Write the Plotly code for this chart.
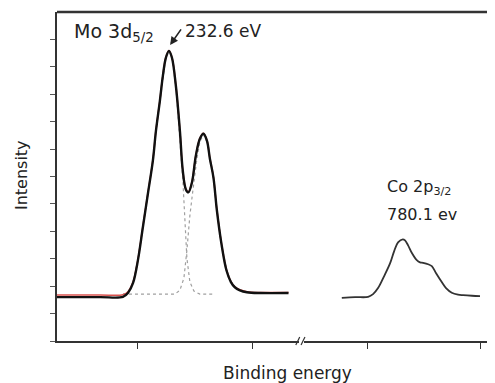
import plotly.graph_objects as go

# ---- data ----
mo_energy = [222.96, 226.7, 228.7, 229.13, 229.57, 230.0, 230.43, 230.87, 231.3, 231.57,
             231.91, 232.17, 232.43, 232.7, 232.96, 233.3, 233.65, 233.9, 234.17, 234.39,
             234.7, 235.04, 235.39, 235.7, 236.0, 236.26, 236.57, 236.87, 237.26, 237.7,
             238.09, 238.43, 238.87, 239.48, 240.6, 243.1]
mo_envelope = [1.6, 1.6, 1.61, 1.75, 2.11, 2.95, 4.15, 5.38, 6.58, 7.67,
               8.76, 9.67, 10.33, 10.58, 10.33, 9.31, 7.67, 6.22, 5.53, 5.42,
               5.78, 6.76, 7.38, 7.56, 7.31, 6.65, 5.96, 4.76, 3.56, 2.58,
               2.15, 1.96, 1.85, 1.78, 1.75, 1.75]
mo_fit = [1.68, 1.68, 1.69, 1.8, 2.15, 2.98, 4.18, 5.4, 6.6, 7.69,
          8.78, 9.69, 10.35, 10.6, 10.35, 9.33, 7.69, 6.24, 5.55, 5.44,
          5.8, 6.78, 7.4, 7.58, 7.33, 6.67, 5.98, 4.78, 3.58, 2.6,
          2.17, 1.98, 1.87, 1.8, 1.77, 1.77]

c1_energy = [228.7, 229.13, 229.57, 230.0, 230.43, 230.87, 231.3, 231.57, 231.91, 232.17,
             232.43, 232.7, 232.96, 233.3, 233.65, 233.91, 234.09, 234.26, 234.52, 234.87,
             235.39, 236.7]
c1_int = [1.71, 1.75, 2.11, 2.95, 4.15, 5.38, 6.58, 7.67, 8.76, 9.67,
          10.33, 10.58, 10.33, 9.27, 7.49, 5.85, 4.40, 3.02, 2.15, 1.82,
          1.71, 1.71]

c2_energy = [228.7, 231.04, 233.22, 233.65, 234.0, 234.26, 234.52, 234.78, 235.13, 235.39,
             235.7, 236.0, 236.26, 236.57, 236.87, 237.26, 237.7, 238.09, 238.43, 238.87,
             239.48, 240.6]
c2_int = [1.71, 1.71, 1.71, 1.85, 2.29, 3.31, 4.58, 5.49, 6.65, 7.27,
          7.53, 7.27, 6.65, 5.96, 4.76, 3.56, 2.62, 2.18, 1.96, 1.85,
          1.78, 1.75]

co_energy = [774.76, 775.94, 777.09, 777.53, 777.97, 778.5, 779.04, 779.39, 779.74, 780.16,
             780.36, 780.63, 780.98, 781.4, 781.69, 781.96, 782.4, 782.73, 783.11, 783.61,
             783.99, 784.5, 785.05, 785.5, 786.29, 787.0]
co_int = [1.57, 1.6, 1.61, 1.71, 1.93, 2.36, 2.84, 3.27, 3.6, 3.71,
          3.67, 3.49, 3.2, 2.95, 2.87, 2.85, 2.8, 2.73, 2.47, 2.15,
          1.93, 1.76, 1.69, 1.67, 1.65, 1.64]

mo_ticks = [230, 240]
co_ticks = [777, 787]
y_ticks = list(range(0, 12))

fig = go.Figure()

fig.add_trace(go.Scatter(x=c1_energy, y=c1_int, mode="lines",
                         line=dict(color="#a0a0a0", width=1.2, dash="dot"),
                         xaxis="x", yaxis="y", showlegend=False))
fig.add_trace(go.Scatter(x=c2_energy, y=c2_int, mode="lines",
                         line=dict(color="#a0a0a0", width=1.2, dash="dot"),
                         xaxis="x", yaxis="y", showlegend=False))
fig.add_trace(go.Scatter(x=mo_energy, y=mo_fit, mode="lines",
                         line=dict(color="#d9534f", width=1.5, shape="spline"),
                         xaxis="x", yaxis="y", showlegend=False))
fig.add_trace(go.Scatter(x=mo_energy, y=mo_envelope, mode="lines",
                         line=dict(color="#111111", width=2.4, shape="spline"),
                         xaxis="x", yaxis="y", showlegend=False))
fig.add_trace(go.Scatter(x=co_energy, y=co_int, mode="lines",
                         line=dict(color="#333333", width=1.8, shape="spline"),
                         xaxis="x2", yaxis="y", showlegend=False))

axis_common = dict(showgrid=False, zeroline=False, showline=True, linecolor="#333333",
                   linewidth=1.5, ticks="outside", ticklen=6, tickcolor="#333333",
                   showticklabels=False)

FONT = "DejaVu Sans, Arial, sans-serif"

fig.update_layout(
    width=487, height=375,
    margin=dict(l=49, r=3, t=4, b=42),
    paper_bgcolor="white", plot_bgcolor="white",
    font=dict(family=FONT, color="#222222"),
    xaxis=dict(domain=[0, 0.556], range=[222.96, 244.0], tickvals=mo_ticks, anchor="y",
               **axis_common),
    xaxis2=dict(domain=[0.568, 1], range=[771.42, 788.06], tickvals=co_ticks, anchor="y",
                **axis_common),
    yaxis=dict(range=[0, 12], tickvals=y_ticks, showgrid=False, zeroline=False,
               showline=True, linecolor="#333333", linewidth=2, ticks="outside",
               ticklen=5, tickcolor="#555555", showticklabels=False),
    shapes=[
        dict(type="line", xref="paper", yref="paper", x0=0, x1=1.01, y0=1, y1=1,
             line=dict(color="#333333", width=2.5)),
        dict(type="line", xref="paper", yref="paper", x0=0.549, x1=0.558, y0=-0.012, y1=0.012,
             line=dict(color="#333333", width=1.2)),
        dict(type="line", xref="paper", yref="paper", x0=0.561, x1=0.570, y0=-0.012, y1=0.012,
             line=dict(color="#333333", width=1.2)),
    ],
    annotations=[
        dict(text="Mo 3d<sub>5/2</sub>", xref="paper", yref="paper", x=0.035, y=0.937,
             xanchor="left", yanchor="middle", showarrow=False, font=dict(size=19)),
        dict(text="232.6 eV", xref="paper", yref="paper", x=0.29, y=0.942,
             xanchor="left", yanchor="middle", showarrow=False, font=dict(size=17)),
        dict(text="", xref="paper", yref="paper", x=0.26, y=0.9, ax=12, ay=-17,
             showarrow=True, arrowhead=2, arrowsize=1, arrowwidth=1.6, arrowcolor="#222222"),
        dict(text="Co 2p<sub>3/2</sub>", xref="paper", yref="paper", x=0.754, y=0.468,
             xanchor="left", yanchor="middle", showarrow=False, font=dict(size=16)),
        dict(text="780.1 ev", xref="paper", yref="paper", x=0.754, y=0.383,
             xanchor="left", yanchor="middle", showarrow=False, font=dict(size=16)),
        dict(text="Intensity", xref="paper", yref="paper", x=-0.08, y=0.505,
             xanchor="center", yanchor="middle", textangle=-90, showarrow=False,
             font=dict(size=16)),
        dict(text="Binding energy", xref="paper", yref="paper", x=0.531, y=-0.097,
             xanchor="center", yanchor="middle", showarrow=False, font=dict(size=17)),
    ],
)

fig.write_html("out.html")
